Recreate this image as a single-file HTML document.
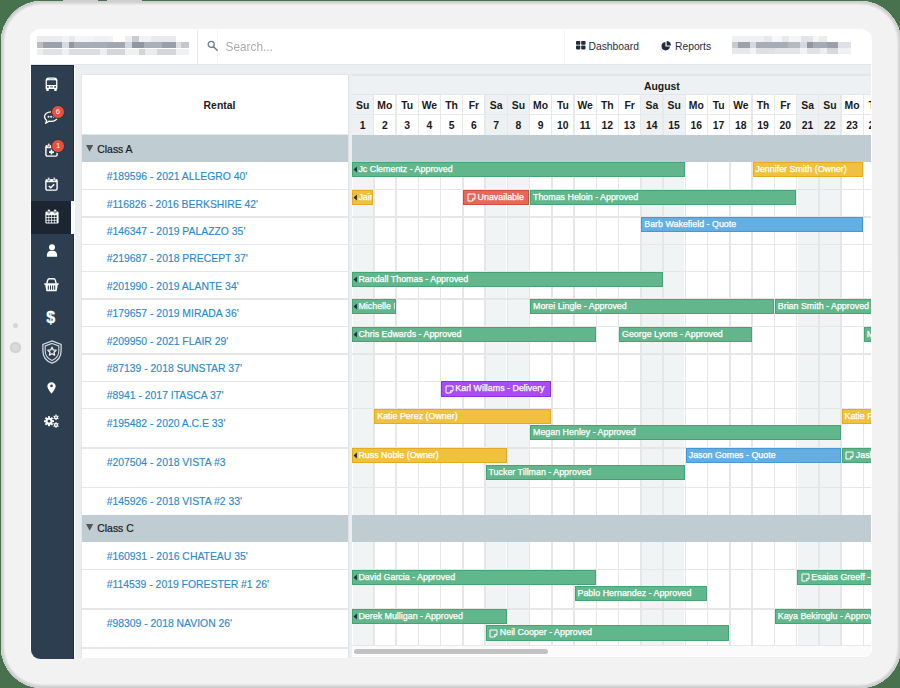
<!DOCTYPE html><html><head><meta charset="utf-8"><style>
*{margin:0;padding:0;box-sizing:border-box}
html,body{width:900px;height:688px;overflow:hidden;background:#48724d;font-family:"Liberation Sans",sans-serif}
.a{position:absolute}
.t{position:absolute;white-space:nowrap;line-height:1}
.bar{position:absolute;overflow:hidden;white-space:nowrap;color:#fff;font-size:8.9px;line-height:13.2px;border:1px solid;-webkit-text-stroke:0.25px #fff}
.lnk{color:#2b89d1;font-size:10.4px;-webkit-text-stroke:0.15px #2b89d1}
.hd{font-weight:bold;font-size:10.4px;color:#1a1a1a}
</style></head><body>

<div class="a" style="left:1px;top:0.8px;width:899.5px;height:687.5px;border-radius:41px;background:#f2f2f2;box-shadow:inset 0 0 0 1.3px #cdcdcd, inset 0 0 0 2.3px #d6d6d6, inset 0 0 0 3.3px #e2e2e2, inset 0 0 0 4.2px #ebebeb, inset 0 0 0 5px #f5f5f5"></div>
<div class="a" style="left:63px;top:0;width:35px;height:1.5px;background:#cfcfcf"></div>
<div class="a" style="left:107px;top:0;width:35px;height:1.5px;background:#cfcfcf"></div>
<div class="a" style="left:12.8px;top:322.5px;width:5px;height:5px;border-radius:50%;background:#d6d6d6"></div>
<div class="a" style="left:9.7px;top:341.8px;width:11px;height:11px;border-radius:50%;background:#dadada;box-shadow:inset 0 0 0 2px #d2d2d2"></div>
<div class="a" style="left:30px;top:28.5px;width:842px;height:628.5px;border-radius:9px 11px 7px 9px;background:#fff"></div>
<div class="a" style="left:74px;top:64.5px;width:797px;height:593.5px;background:#eceff1;border-radius:0 0 6px 0"></div>
<div class="a" style="left:31px;top:29.5px;width:840px;height:35px;background:#fff;border-radius:8px 10px 0 0;border-bottom:1px solid #e2e6e8"></div>
<div class="a" style="left:197px;top:30px;width:1px;height:34px;background:#e6e9eb"></div>
<div class="a" style="left:216.5px;top:30px;width:1px;height:34px;background:#f4f5f6"></div>
<div class="a" style="left:564px;top:30px;width:1px;height:34px;background:#f4f5f6"></div>
<div class="a" style="left:0;top:0;width:900px;height:70px;filter:blur(0.7px)"><div class="a" style="left:37.18px;top:35.7px;width:24.95px;height:6px;background:#e9ebed"></div><div class="a" style="left:62.14px;top:35.7px;width:6.62px;height:6px;background:#f1f2f3"></div><div class="a" style="left:68.75px;top:35.7px;width:6.62px;height:6px;background:#e6e8ea"></div><div class="a" style="left:75.37px;top:35.7px;width:18.9px;height:6px;background:#f3f4f5"></div><div class="a" style="left:94.27px;top:35.7px;width:12.29px;height:6px;background:#eef0f1"></div><div class="a" style="left:106.56px;top:35.7px;width:6.62px;height:6px;background:#f1f2f3"></div><div class="a" style="left:125.46px;top:35.7px;width:6.62px;height:6px;background:#eceef0"></div><div class="a" style="left:132.08px;top:35.7px;width:6.62px;height:6px;background:#c9cdd2"></div><div class="a" style="left:138.7px;top:35.7px;width:12.29px;height:6px;background:#f1f2f3"></div><div class="a" style="left:150.98px;top:35.7px;width:24.57px;height:6px;background:#e8eaec"></div><div class="a" style="left:37.18px;top:41.7px;width:6.05px;height:6.8px;background:#b9bec5"></div><div class="a" style="left:43.23px;top:41.7px;width:18.9px;height:6.8px;background:#9aa1ab"></div><div class="a" style="left:62.14px;top:41.7px;width:6.62px;height:6.8px;background:#d8dbdf"></div><div class="a" style="left:68.75px;top:41.7px;width:5.67px;height:6.8px;background:#8f97a2"></div><div class="a" style="left:74.42px;top:41.7px;width:32.14px;height:6.8px;background:#a7adb6"></div><div class="a" style="left:106.56px;top:41.7px;width:18.9px;height:6.8px;background:#a0a7b0"></div><div class="a" style="left:125.46px;top:41.7px;width:6.62px;height:6.8px;background:#d2d6da"></div><div class="a" style="left:132.08px;top:41.7px;width:12.29px;height:6.8px;background:#8f97a2"></div><div class="a" style="left:144.37px;top:41.7px;width:17.96px;height:6.8px;background:#aab0b8"></div><div class="a" style="left:162.33px;top:41.7px;width:13.23px;height:6.8px;background:#98a0aa"></div><div class="a" style="left:175.56px;top:41.7px;width:5.67px;height:6.8px;background:#dde0e3"></div><div class="a" style="left:181.23px;top:41.7px;width:7.56px;height:6.8px;background:#c3c8ce"></div><div class="a" style="left:37.18px;top:48.5px;width:6.05px;height:6px;background:#eceef0"></div><div class="a" style="left:43.23px;top:48.5px;width:18.9px;height:6px;background:#dfe2e5"></div><div class="a" style="left:62.14px;top:48.5px;width:6.62px;height:6px;background:#eff0f2"></div><div class="a" style="left:68.75px;top:48.5px;width:31.19px;height:6px;background:#dadde1"></div><div class="a" style="left:99.94px;top:48.5px;width:6.62px;height:6px;background:#eceef0"></div><div class="a" style="left:106.56px;top:48.5px;width:18.9px;height:6px;background:#d3d7db"></div><div class="a" style="left:125.46px;top:48.5px;width:13.23px;height:6px;background:#eff0f2"></div><div class="a" style="left:138.7px;top:48.5px;width:6.62px;height:6px;background:#d0d4d8"></div><div class="a" style="left:145.31px;top:48.5px;width:11.34px;height:6px;background:#e9ebed"></div><div class="a" style="left:156.65px;top:48.5px;width:18.9px;height:6px;background:#d3d7db"></div><div class="a" style="left:175.56px;top:48.5px;width:13.23px;height:6px;background:#f0f1f2"></div><div class="a" style="left:732.09px;top:35.5px;width:32.36px;height:6.5px;background:#eef0f1"></div><div class="a" style="left:764.44px;top:35.5px;width:7.11px;height:6.5px;background:#e6e8ea"></div><div class="a" style="left:771.56px;top:35.5px;width:10.67px;height:6.5px;background:#f6f7f8"></div><div class="a" style="left:782.22px;top:35.5px;width:7.11px;height:6.5px;background:#e6e8ea"></div><div class="a" style="left:789.33px;top:35.5px;width:11.56px;height:6.5px;background:#f4f5f6"></div><div class="a" style="left:800.89px;top:35.5px;width:12.44px;height:6.5px;background:#e2e5e8"></div><div class="a" style="left:813.33px;top:35.5px;width:5.33px;height:6.5px;background:#f4f5f6"></div><div class="a" style="left:818.67px;top:35.5px;width:8px;height:6.5px;background:#e9ebed"></div><div class="a" style="left:732.09px;top:42px;width:5.69px;height:5.8px;background:#c6cacf"></div><div class="a" style="left:737.78px;top:42px;width:12.44px;height:5.8px;background:#9ba2ac"></div><div class="a" style="left:750.22px;top:42px;width:6.22px;height:5.8px;background:#d5d8dc"></div><div class="a" style="left:756.44px;top:42px;width:32px;height:5.8px;background:#a7adb6"></div><div class="a" style="left:788.44px;top:42px;width:11.56px;height:5.8px;background:#b6bbc2"></div><div class="a" style="left:800px;top:42px;width:7.11px;height:5.8px;background:#d5d8dc"></div><div class="a" style="left:807.11px;top:42px;width:6.22px;height:5.8px;background:#8f97a2"></div><div class="a" style="left:813.33px;top:42px;width:13.33px;height:5.8px;background:#a5abb4"></div><div class="a" style="left:826.67px;top:42px;width:11.56px;height:5.8px;background:#98a0aa"></div><div class="a" style="left:838.22px;top:42px;width:12.98px;height:5.8px;background:#dfe2e5"></div><div class="a" style="left:732.09px;top:47.8px;width:18.13px;height:6.2px;background:#e6e8ea"></div><div class="a" style="left:750.22px;top:47.8px;width:6.22px;height:6.2px;background:#f2f3f4"></div><div class="a" style="left:756.44px;top:47.8px;width:18.67px;height:6.2px;background:#dee1e4"></div><div class="a" style="left:775.11px;top:47.8px;width:24.89px;height:6.2px;background:#e3e5e8"></div><div class="a" style="left:800px;top:47.8px;width:7.11px;height:6.2px;background:#f2f3f4"></div><div class="a" style="left:807.11px;top:47.8px;width:12.44px;height:6.2px;background:#e0e3e6"></div><div class="a" style="left:819.56px;top:47.8px;width:7.11px;height:6.2px;background:#eceef0"></div><div class="a" style="left:826.67px;top:47.8px;width:11.56px;height:6.2px;background:#d5d8dc"></div><div class="a" style="left:838.22px;top:47.8px;width:12.98px;height:6.2px;background:#f0f1f2"></div></div>
<svg class="a" style="left:206.5px;top:40.3px" width="13" height="12" viewBox="0 0 13 12"><circle cx="4.2" cy="4.4" r="3" fill="none" stroke="#6f7d89" stroke-width="1.3"/><line x1="6.5" y1="6.8" x2="10.2" y2="10.2" stroke="#6f7d89" stroke-width="1.5" stroke-linecap="round"/></svg>
<div class="t" style="left:225.6px;top:40.5px;font-size:11.8px;color:#aaaaaa;transform:scaleY(1.14);transform-origin:0 0">Search...</div>
<svg class="a" style="left:575.5px;top:41px" width="10" height="9" viewBox="0 0 10 9"><rect x="0" y="0" width="4.3" height="3.8" rx="0.8" fill="#1f2d3d"/><rect x="5.2" y="0" width="4.3" height="3.8" rx="0.8" fill="#1f2d3d"/><rect x="0" y="4.6" width="4.3" height="3.8" rx="0.8" fill="#1f2d3d"/><rect x="5.2" y="4.6" width="4.3" height="3.8" rx="0.8" fill="#1f2d3d"/></svg>
<div class="t" style="left:588.5px;top:42px;font-size:10.3px;color:#1f2d3d">Dashboard</div>
<svg class="a" style="left:661px;top:40.5px" width="11" height="10" viewBox="0 0 11 10"><path d="M4.4 1 A4.2 4.2 0 1 0 8.9 5.6 L4.4 5.6 Z" fill="#1f2d3d"/><path d="M5.6 0 A4.4 4.4 0 0 1 10 4.4 L5.6 4.4 Z" fill="#1f2d3d"/></svg>
<div class="t" style="left:675px;top:42px;font-size:10.3px;color:#1f2d3d">Reports</div>
<div class="a" style="left:31px;top:65px;width:43px;height:594px;background:#2c3e50;border-right:1px solid #1c2b3c;border-top:1px solid #1c2b3c;border-radius:0 0 0 9px"></div>
<div class="a" style="left:74px;top:65px;width:1px;height:592px;background:#fff"></div>
<div class="a" style="left:31px;top:200.5px;width:39.5px;height:33px;background:#1b2632"></div>
<div class="a" style="left:70.5px;top:200.5px;width:3.5px;height:33px;background:#fbfcfc"></div>
<svg class="a" style="left:45px;top:77.2px" width="13" height="14" viewBox="0 0 13 14"><path d="M0.6 3.6 Q0.6 0.5 3.8 0.5 H9.2 Q12.4 0.5 12.4 3.6 V11.4 Q12.4 12.1 11.8 12.1 V13.3 Q11.8 13.9 11.2 13.9 H9.8 Q9.2 13.9 9.2 13.3 V12.1 H3.8 V13.3 Q3.8 13.9 3.2 13.9 H1.8 Q1.2 13.9 1.2 13.3 V12.1 Q0.6 12.1 0.6 11.4 Z" fill="#fff"/><path d="M1.9 4.2 Q1.9 3.2 2.9 3.2 H10.1 Q11.1 3.2 11.1 4.2 V7.9 H1.9 Z" fill="#2c3e50"/><rect x="3.6" y="1.6" width="5.8" height="0.7" fill="#8a96a2"/><circle cx="2.9" cy="9.9" r="0.95" fill="#2c3e50"/><circle cx="10.1" cy="9.9" r="0.95" fill="#2c3e50"/><rect x="5" y="9.5" width="3" height="0.8" fill="#2c3e50"/></svg><svg class="a" style="left:44.3px;top:110.3px" width="15" height="14" viewBox="0 0 15 14"><path d="M7 1.8 C10.8 1.8 13.6 3.9 13.6 6.6 C13.6 9.3 10.8 11.4 7 11.4 C6.3 11.4 5.6 11.3 5 11.2 L1.8 13.2 L2.6 10.4 C1.3 9.5 0.6 8.1 0.6 6.6 C0.6 3.9 3.3 1.8 7 1.8 Z" fill="none" stroke="#fff" stroke-width="1.25"/><circle cx="4.5" cy="6.8" r="0.95" fill="#fff"/><circle cx="7.1" cy="6.8" r="0.95" fill="#fff"/><circle cx="9.7" cy="6.8" r="0.95" fill="#fff"/></svg><div class="a" style="left:50.6px;top:105.1px;width:14.4px;height:14.4px;border-radius:50%;background:#ea5039;border:1.1px solid #243445;color:#fff;font-size:7.6px;line-height:12.2px;text-align:center">6</div><svg class="a" style="left:44.6px;top:143.2px" width="13" height="14" viewBox="0 0 13 14"><rect x="0.9" y="2.6" width="11.2" height="10.5" rx="1.3" fill="none" stroke="#fff" stroke-width="1.4"/><rect x="0.9" y="2.6" width="11.2" height="2.6" fill="#fff"/><rect x="2.8" y="0.3" width="2" height="3.6" rx="1" fill="#fff" stroke="#2c3e50" stroke-width="0.6"/><rect x="8.2" y="0.3" width="2" height="3.6" rx="1" fill="#fff" stroke="#2c3e50" stroke-width="0.6"/><path d="M6.5 6.6 V11.6 M4 9.1 H9" stroke="#fff" stroke-width="1.6"/></svg><div class="a" style="left:50.9px;top:138.6px;width:14.4px;height:14.4px;border-radius:50%;background:#ea5039;border:1.1px solid #243445;color:#fff;font-size:7.6px;line-height:12px;text-align:center">1</div><svg class="a" style="left:44.8px;top:177px" width="13" height="14" viewBox="0 0 13 14"><rect x="0.9" y="2.6" width="11.2" height="10.5" rx="1.3" fill="none" stroke="#fff" stroke-width="1.4"/><rect x="0.9" y="2.6" width="11.2" height="2.6" fill="#fff"/><rect x="2.8" y="0.3" width="2" height="3.6" rx="1" fill="#fff" stroke="#2c3e50" stroke-width="0.6"/><rect x="8.2" y="0.3" width="2" height="3.6" rx="1" fill="#fff" stroke="#2c3e50" stroke-width="0.6"/><path d="M3.8 8.9 L5.7 10.8 L9.3 7.2" fill="none" stroke="#fff" stroke-width="1.4"/></svg><svg class="a" style="left:44.6px;top:209.4px" width="14" height="15" viewBox="0 0 14 15"><rect x="0.4" y="2.6" width="13.2" height="12" rx="1.3" fill="#fff"/><rect x="2.6" y="0.3" width="2.6" height="3.8" rx="1.3" fill="#fff" stroke="#1b2632" stroke-width="0.5"/><rect x="8.8" y="0.3" width="2.6" height="3.8" rx="1.3" fill="#fff" stroke="#1b2632" stroke-width="0.5"/><rect x="3.5" y="2.1" width="0.8" height="1.3" fill="#1b2632"/><rect x="9.7" y="2.1" width="0.8" height="1.3" fill="#1b2632"/><rect x="1.45" y="6.2" width="2.05" height="1.95" fill="#1b2632"/><rect x="1.45" y="8.9" width="2.05" height="1.95" fill="#1b2632"/><rect x="1.45" y="11.6" width="2.05" height="1.95" fill="#1b2632"/><rect x="4.17" y="6.2" width="2.05" height="1.95" fill="#1b2632"/><rect x="4.17" y="8.9" width="2.05" height="1.95" fill="#1b2632"/><rect x="4.17" y="11.6" width="2.05" height="1.95" fill="#1b2632"/><rect x="6.89" y="6.2" width="2.05" height="1.95" fill="#1b2632"/><rect x="6.89" y="8.9" width="2.05" height="1.95" fill="#1b2632"/><rect x="6.89" y="11.6" width="2.05" height="1.95" fill="#1b2632"/><rect x="9.61" y="6.2" width="2.05" height="1.95" fill="#1b2632"/><rect x="9.61" y="8.9" width="2.05" height="1.95" fill="#1b2632"/><rect x="9.61" y="11.6" width="2.05" height="1.95" fill="#1b2632"/></svg><svg class="a" style="left:45.5px;top:243.5px" width="12" height="13" viewBox="0 0 12 13"><circle cx="6" cy="3.3" r="3" fill="#fff"/><path d="M0.9 12.2 V10.8 C0.9 8.3 2.9 6.7 5 6.7 H7 C9.1 6.7 11.1 8.3 11.1 10.8 V12.2 Q11.1 12.8 10.5 12.8 H1.5 Q0.9 12.8 0.9 12.2 Z" fill="#fff"/></svg><svg class="a" style="left:44px;top:277.5px" width="15" height="14" viewBox="0 0 15 14"><path d="M2.9 5.4 L3.6 2.4 Q4 0.8 5.6 0.8 H9.4 Q11 0.8 11.4 2.4 L12.1 5.4" fill="none" stroke="#fff" stroke-width="1.4"/><path d="M0.3 5.2 H14.7 V6.8 H13.8 L12.6 13.2 H2.4 L1.2 6.8 H0.3 Z" fill="#fff"/><path d="M4.3 7.6 V11.8 M6.5 7.6 V11.8 M8.6 7.6 V11.8 M10.7 7.6 V11.8" stroke="#2c3e50" stroke-width="1.1"/></svg><div class="t" style="left:46.3px;top:309.8px;font-size:16px;font-weight:bold;color:#fff;-webkit-text-stroke:0.3px #fff">$</div><svg class="a" style="left:41.5px;top:340.3px" width="20" height="24" viewBox="0 0 20 24"><path d="M10 0.9 L19.1 4.4 V11 C19.1 17 15 21.4 10 23.2 C5 21.4 0.9 17 0.9 11 V4.4 Z" fill="none" stroke="#d3d8dc" stroke-width="1.3"/><path d="M10 3.4 L16.8 6 V11 C16.8 15.6 13.7 19 10 20.6 C6.3 19 3.2 15.6 3.2 11 V6 Z" fill="none" stroke="#d3d8dc" stroke-width="1.1"/><path d="M10.00 7.20 L11.23 9.90 L14.18 10.24 L12.00 12.25 L12.59 15.16 L10.00 13.70 L7.41 15.16 L8.00 12.25 L5.82 10.24 L8.77 9.90 Z" fill="none" stroke="#eef0f2" stroke-width="1.3" stroke-linejoin="round"/></svg><svg class="a" style="left:47.3px;top:382px" width="9" height="12" viewBox="0 0 9 12"><path d="M4.5 0.3 C6.8 0.3 8.6 2 8.6 4.2 C8.6 6.8 4.5 11.6 4.5 11.6 C4.5 11.6 0.4 6.8 0.4 4.2 C0.4 2 2.2 0.3 4.5 0.3 Z" fill="#fff"/><circle cx="4.5" cy="3.9" r="1.3" fill="#2c3e50"/></svg><svg class="a" style="left:44px;top:413.8px" width="15" height="15" viewBox="0 0 15 15"><circle cx="5" cy="7.2" r="3.5" fill="#fff"/><rect x="4.05" y="2.20" width="1.90" height="10.00" fill="#fff" transform="rotate(0.0 5 7.2)"/><rect x="4.05" y="2.20" width="1.90" height="10.00" fill="#fff" transform="rotate(45.0 5 7.2)"/><rect x="4.05" y="2.20" width="1.90" height="10.00" fill="#fff" transform="rotate(90.0 5 7.2)"/><rect x="4.05" y="2.20" width="1.90" height="10.00" fill="#fff" transform="rotate(135.0 5 7.2)"/><circle cx="5" cy="7.2" r="1.4" fill="#2c3e50"/><circle cx="12" cy="3.3" r="1.9" fill="#fff"/><rect x="11.40" y="0.50" width="1.20" height="5.60" fill="#fff" transform="rotate(0.0 12 3.3)"/><rect x="11.40" y="0.50" width="1.20" height="5.60" fill="#fff" transform="rotate(60.0 12 3.3)"/><rect x="11.40" y="0.50" width="1.20" height="5.60" fill="#fff" transform="rotate(120.0 12 3.3)"/><circle cx="12" cy="3.3" r="0.8" fill="#2c3e50"/><circle cx="12" cy="11" r="1.9" fill="#fff"/><rect x="11.40" y="8.20" width="1.20" height="5.60" fill="#fff" transform="rotate(0.0 12 11)"/><rect x="11.40" y="8.20" width="1.20" height="5.60" fill="#fff" transform="rotate(60.0 12 11)"/><rect x="11.40" y="8.20" width="1.20" height="5.60" fill="#fff" transform="rotate(120.0 12 11)"/><circle cx="12" cy="11" r="0.8" fill="#2c3e50"/></svg>
<div class="a" style="left:81px;top:73.5px;width:268px;height:584px;background:#fff;border:1px solid #e3e5e7;border-bottom:none"></div>
<div class="a" style="left:351.5px;top:73.5px;width:519.5px;height:583.5px;background:#fff;border-top:1px solid #e3e5e7;overflow:hidden;border-radius:0 0 6px 0"></div>
<div class="t hd" style="left:86.5px;width:266px;text-align:center;top:101px">Rental</div>
<div class="a" style="left:82px;top:134px;width:266px;height:1px;background:#e3e5e7"></div>
<div class="a" style="left:82px;top:135px;width:266px;height:27.1px;background:#bfccd2"></div><svg class="a" style="left:86.2px;top:144.5px" width="8" height="7" viewBox="0 0 8 7"><path d="M0 0 H7.2 L3.6 6.8 Z" fill="#555"/></svg><div class="t" style="left:97.3px;top:144.5px;font-size:10.4px;color:#1a1a1a;-webkit-text-stroke:0.2px #1a1a1a">Class A</div><div class="t lnk" style="left:106.7px;top:172.1px">#189596 - 2021 ALLEGRO 40'</div><div class="a" style="left:82px;top:188.75px;width:266px;height:1.5px;background:#e6e6e6"></div><div class="t lnk" style="left:106.7px;top:199.5px">#116826 - 2016 BERKSHIRE 42'</div><div class="a" style="left:82px;top:216.15px;width:266px;height:1.5px;background:#e6e6e6"></div><div class="t lnk" style="left:106.7px;top:226.9px">#146347 - 2019 PALAZZO 35'</div><div class="a" style="left:82px;top:243.55px;width:266px;height:1.5px;background:#e6e6e6"></div><div class="t lnk" style="left:106.7px;top:254.3px">#219687 - 2018 PRECEPT 37'</div><div class="a" style="left:82px;top:270.95px;width:266px;height:1.5px;background:#e6e6e6"></div><div class="t lnk" style="left:106.7px;top:281.7px">#201990 - 2019 ALANTE 34'</div><div class="a" style="left:82px;top:298.35px;width:266px;height:1.5px;background:#e6e6e6"></div><div class="t lnk" style="left:106.7px;top:309.1px">#179657 - 2019 MIRADA 36'</div><div class="a" style="left:82px;top:325.75px;width:266px;height:1.5px;background:#e6e6e6"></div><div class="t lnk" style="left:106.7px;top:336.5px">#209950 - 2021 FLAIR 29'</div><div class="a" style="left:82px;top:353.15px;width:266px;height:1.5px;background:#e6e6e6"></div><div class="t lnk" style="left:106.7px;top:363.9px">#87139 - 2018 SUNSTAR 37'</div><div class="a" style="left:82px;top:380.55px;width:266px;height:1.5px;background:#e6e6e6"></div><div class="t lnk" style="left:106.7px;top:391.3px">#8941 - 2017 ITASCA 37'</div><div class="a" style="left:82px;top:407.95px;width:266px;height:1.5px;background:#e6e6e6"></div><div class="t lnk" style="left:106.7px;top:418.7px">#195482 - 2020 A.C.E 33'</div><div class="a" style="left:82px;top:447.25px;width:266px;height:1.5px;background:#e6e6e6"></div><div class="t lnk" style="left:106.7px;top:458px">#207504 - 2018 VISTA #3</div><div class="a" style="left:82px;top:486.55px;width:266px;height:1.5px;background:#e6e6e6"></div><div class="t lnk" style="left:106.7px;top:497.3px">#145926 - 2018 VISTA #2 33'</div><div class="a" style="left:82px;top:514.7px;width:266px;height:27.4px;background:#bfccd2"></div><svg class="a" style="left:86.2px;top:524.2px" width="8" height="7" viewBox="0 0 8 7"><path d="M0 0 H7.2 L3.6 6.8 Z" fill="#555"/></svg><div class="t" style="left:97.3px;top:524.2px;font-size:10.4px;color:#1a1a1a;-webkit-text-stroke:0.2px #1a1a1a">Class C</div><div class="t lnk" style="left:106.7px;top:552.1px">#160931 - 2016 CHATEAU 35'</div><div class="a" style="left:82px;top:568.75px;width:266px;height:1.5px;background:#e6e6e6"></div><div class="t lnk" style="left:106.7px;top:579.5px">#114539 - 2019 FORESTER #1 26'</div><div class="a" style="left:82px;top:608.05px;width:266px;height:1.5px;background:#e6e6e6"></div><div class="t lnk" style="left:106.7px;top:618.8px">#98309 - 2018 NAVION 26'</div><div class="a" style="left:82px;top:647.35px;width:266px;height:1.5px;background:#e6e6e6"></div>
<div class="a" style="left:351.5px;top:73.5px;width:519.5px;height:582.8px;overflow:hidden;border-radius:0 0 6px 0"><div class="a" style="left:0;top:1.5px;width:520px;height:19.5px;background:#eef1f3;border-top:1px solid #e3e6e8"></div><div class="t hd" style="left:292.5px;top:8.2px">August</div><div class="a" style="left:0px;top:21.2px;width:22.25px;height:40px;background:#eef1f3"></div><div class="t hd" style="left:0px;width:22.25px;text-align:center;top:27.5px">Su</div><div class="t hd" style="left:0px;width:22.25px;text-align:center;top:47.5px">1</div><div class="a" style="left:22.25px;top:21.2px;width:22.25px;height:40px;background:#fff"></div><div class="t hd" style="left:22.25px;width:22.25px;text-align:center;top:27.5px">Mo</div><div class="t hd" style="left:22.25px;width:22.25px;text-align:center;top:47.5px">2</div><div class="a" style="left:44.5px;top:21.2px;width:22.25px;height:40px;background:#fff"></div><div class="t hd" style="left:44.5px;width:22.25px;text-align:center;top:27.5px">Tu</div><div class="t hd" style="left:44.5px;width:22.25px;text-align:center;top:47.5px">3</div><div class="a" style="left:66.75px;top:21.2px;width:22.25px;height:40px;background:#fff"></div><div class="t hd" style="left:66.75px;width:22.25px;text-align:center;top:27.5px">We</div><div class="t hd" style="left:66.75px;width:22.25px;text-align:center;top:47.5px">4</div><div class="a" style="left:89px;top:21.2px;width:22.25px;height:40px;background:#fff"></div><div class="t hd" style="left:89px;width:22.25px;text-align:center;top:27.5px">Th</div><div class="t hd" style="left:89px;width:22.25px;text-align:center;top:47.5px">5</div><div class="a" style="left:111.25px;top:21.2px;width:22.25px;height:40px;background:#fff"></div><div class="t hd" style="left:111.25px;width:22.25px;text-align:center;top:27.5px">Fr</div><div class="t hd" style="left:111.25px;width:22.25px;text-align:center;top:47.5px">6</div><div class="a" style="left:133.5px;top:21.2px;width:22.25px;height:40px;background:#eef1f3"></div><div class="t hd" style="left:133.5px;width:22.25px;text-align:center;top:27.5px">Sa</div><div class="t hd" style="left:133.5px;width:22.25px;text-align:center;top:47.5px">7</div><div class="a" style="left:155.75px;top:21.2px;width:22.25px;height:40px;background:#eef1f3"></div><div class="t hd" style="left:155.75px;width:22.25px;text-align:center;top:27.5px">Su</div><div class="t hd" style="left:155.75px;width:22.25px;text-align:center;top:47.5px">8</div><div class="a" style="left:178px;top:21.2px;width:22.25px;height:40px;background:#fff"></div><div class="t hd" style="left:178px;width:22.25px;text-align:center;top:27.5px">Mo</div><div class="t hd" style="left:178px;width:22.25px;text-align:center;top:47.5px">9</div><div class="a" style="left:200.25px;top:21.2px;width:22.25px;height:40px;background:#fff"></div><div class="t hd" style="left:200.25px;width:22.25px;text-align:center;top:27.5px">Tu</div><div class="t hd" style="left:200.25px;width:22.25px;text-align:center;top:47.5px">10</div><div class="a" style="left:222.5px;top:21.2px;width:22.25px;height:40px;background:#fff"></div><div class="t hd" style="left:222.5px;width:22.25px;text-align:center;top:27.5px">We</div><div class="t hd" style="left:222.5px;width:22.25px;text-align:center;top:47.5px">11</div><div class="a" style="left:244.75px;top:21.2px;width:22.25px;height:40px;background:#fff"></div><div class="t hd" style="left:244.75px;width:22.25px;text-align:center;top:27.5px">Th</div><div class="t hd" style="left:244.75px;width:22.25px;text-align:center;top:47.5px">12</div><div class="a" style="left:267px;top:21.2px;width:22.25px;height:40px;background:#fff"></div><div class="t hd" style="left:267px;width:22.25px;text-align:center;top:27.5px">Fr</div><div class="t hd" style="left:267px;width:22.25px;text-align:center;top:47.5px">13</div><div class="a" style="left:289.25px;top:21.2px;width:22.25px;height:40px;background:#eef1f3"></div><div class="t hd" style="left:289.25px;width:22.25px;text-align:center;top:27.5px">Sa</div><div class="t hd" style="left:289.25px;width:22.25px;text-align:center;top:47.5px">14</div><div class="a" style="left:311.5px;top:21.2px;width:22.25px;height:40px;background:#eef1f3"></div><div class="t hd" style="left:311.5px;width:22.25px;text-align:center;top:27.5px">Su</div><div class="t hd" style="left:311.5px;width:22.25px;text-align:center;top:47.5px">15</div><div class="a" style="left:333.75px;top:21.2px;width:22.25px;height:40px;background:#fff"></div><div class="t hd" style="left:333.75px;width:22.25px;text-align:center;top:27.5px">Mo</div><div class="t hd" style="left:333.75px;width:22.25px;text-align:center;top:47.5px">16</div><div class="a" style="left:356px;top:21.2px;width:22.25px;height:40px;background:#fff"></div><div class="t hd" style="left:356px;width:22.25px;text-align:center;top:27.5px">Tu</div><div class="t hd" style="left:356px;width:22.25px;text-align:center;top:47.5px">17</div><div class="a" style="left:378.25px;top:21.2px;width:22.25px;height:40px;background:#fff"></div><div class="t hd" style="left:378.25px;width:22.25px;text-align:center;top:27.5px">We</div><div class="t hd" style="left:378.25px;width:22.25px;text-align:center;top:47.5px">18</div><div class="a" style="left:400.5px;top:21.2px;width:22.25px;height:40px;background:#fff"></div><div class="t hd" style="left:400.5px;width:22.25px;text-align:center;top:27.5px">Th</div><div class="t hd" style="left:400.5px;width:22.25px;text-align:center;top:47.5px">19</div><div class="a" style="left:422.75px;top:21.2px;width:22.25px;height:40px;background:#fff"></div><div class="t hd" style="left:422.75px;width:22.25px;text-align:center;top:27.5px">Fr</div><div class="t hd" style="left:422.75px;width:22.25px;text-align:center;top:47.5px">20</div><div class="a" style="left:445px;top:21.2px;width:22.25px;height:40px;background:#eef1f3"></div><div class="t hd" style="left:445px;width:22.25px;text-align:center;top:27.5px">Sa</div><div class="t hd" style="left:445px;width:22.25px;text-align:center;top:47.5px">21</div><div class="a" style="left:467.25px;top:21.2px;width:22.25px;height:40px;background:#eef1f3"></div><div class="t hd" style="left:467.25px;width:22.25px;text-align:center;top:27.5px">Su</div><div class="t hd" style="left:467.25px;width:22.25px;text-align:center;top:47.5px">22</div><div class="a" style="left:489.5px;top:21.2px;width:22.25px;height:40px;background:#fff"></div><div class="t hd" style="left:489.5px;width:22.25px;text-align:center;top:27.5px">Mo</div><div class="t hd" style="left:489.5px;width:22.25px;text-align:center;top:47.5px">23</div><div class="a" style="left:511.75px;top:21.2px;width:22.25px;height:40px;background:#fff"></div><div class="t hd" style="left:511.75px;width:22.25px;text-align:center;top:27.5px">Tu</div><div class="t hd" style="left:511.75px;width:22.25px;text-align:center;top:47.5px">24</div><div class="a" style="left:534px;top:21.2px;width:22.25px;height:40px;background:#fff"></div><div class="t hd" style="left:534px;width:22.25px;text-align:center;top:27.5px">We</div><div class="t hd" style="left:534px;width:22.25px;text-align:center;top:47.5px">25</div><div class="a" style="left:21.55px;top:21.2px;width:1.4px;height:40px;background:#e6e8ea"></div><div class="a" style="left:43.8px;top:21.2px;width:1.4px;height:40px;background:#e6e8ea"></div><div class="a" style="left:66.05px;top:21.2px;width:1.4px;height:40px;background:#e6e8ea"></div><div class="a" style="left:88.3px;top:21.2px;width:1.4px;height:40px;background:#e6e8ea"></div><div class="a" style="left:110.55px;top:21.2px;width:1.4px;height:40px;background:#e6e8ea"></div><div class="a" style="left:132.8px;top:21.2px;width:1.4px;height:40px;background:#e6e8ea"></div><div class="a" style="left:155.05px;top:21.2px;width:1.4px;height:40px;background:#e6e8ea"></div><div class="a" style="left:177.3px;top:21.2px;width:1.4px;height:40px;background:#e6e8ea"></div><div class="a" style="left:199.55px;top:21.2px;width:1.4px;height:40px;background:#e6e8ea"></div><div class="a" style="left:221.8px;top:21.2px;width:1.4px;height:40px;background:#e6e8ea"></div><div class="a" style="left:244.05px;top:21.2px;width:1.4px;height:40px;background:#e6e8ea"></div><div class="a" style="left:266.3px;top:21.2px;width:1.4px;height:40px;background:#e6e8ea"></div><div class="a" style="left:288.55px;top:21.2px;width:1.4px;height:40px;background:#e6e8ea"></div><div class="a" style="left:310.8px;top:21.2px;width:1.4px;height:40px;background:#e6e8ea"></div><div class="a" style="left:333.05px;top:21.2px;width:1.4px;height:40px;background:#e6e8ea"></div><div class="a" style="left:355.3px;top:21.2px;width:1.4px;height:40px;background:#e6e8ea"></div><div class="a" style="left:377.55px;top:21.2px;width:1.4px;height:40px;background:#e6e8ea"></div><div class="a" style="left:399.8px;top:21.2px;width:1.4px;height:40px;background:#e6e8ea"></div><div class="a" style="left:422.05px;top:21.2px;width:1.4px;height:40px;background:#e6e8ea"></div><div class="a" style="left:444.3px;top:21.2px;width:1.4px;height:40px;background:#e6e8ea"></div><div class="a" style="left:466.55px;top:21.2px;width:1.4px;height:40px;background:#e6e8ea"></div><div class="a" style="left:488.8px;top:21.2px;width:1.4px;height:40px;background:#e6e8ea"></div><div class="a" style="left:511.05px;top:21.2px;width:1.4px;height:40px;background:#e6e8ea"></div><div class="a" style="left:533.3px;top:21.2px;width:1.4px;height:40px;background:#e6e8ea"></div><div class="a" style="left:0;top:40.5px;width:520px;height:1.4px;background:#e6e8ea"></div><div class="a" style="left:0;top:20.7px;width:520px;height:1px;background:#e3e6e8"></div><div class="a" style="left:1px;top:61.5px;width:20.25px;height:513.1px;background:#f0f4f5"></div><div class="a" style="left:134.5px;top:61.5px;width:20.25px;height:513.1px;background:#f0f4f5"></div><div class="a" style="left:156.75px;top:61.5px;width:20.25px;height:513.1px;background:#f0f4f5"></div><div class="a" style="left:290.25px;top:61.5px;width:20.25px;height:513.1px;background:#f0f4f5"></div><div class="a" style="left:312.5px;top:61.5px;width:20.25px;height:513.1px;background:#f0f4f5"></div><div class="a" style="left:446px;top:61.5px;width:20.25px;height:513.1px;background:#f0f4f5"></div><div class="a" style="left:468.25px;top:61.5px;width:20.25px;height:513.1px;background:#f0f4f5"></div><div class="a" style="left:21.5px;top:61.5px;width:1.5px;height:513.1px;background:#e6e6e6"></div><div class="a" style="left:43.75px;top:61.5px;width:1.5px;height:513.1px;background:#e6e6e6"></div><div class="a" style="left:66px;top:61.5px;width:1.5px;height:513.1px;background:#e6e6e6"></div><div class="a" style="left:88.25px;top:61.5px;width:1.5px;height:513.1px;background:#e6e6e6"></div><div class="a" style="left:110.5px;top:61.5px;width:1.5px;height:513.1px;background:#e6e6e6"></div><div class="a" style="left:132.75px;top:61.5px;width:1.5px;height:513.1px;background:#e6e6e6"></div><div class="a" style="left:155px;top:61.5px;width:1.5px;height:513.1px;background:#e6e6e6"></div><div class="a" style="left:177.25px;top:61.5px;width:1.5px;height:513.1px;background:#e6e6e6"></div><div class="a" style="left:199.5px;top:61.5px;width:1.5px;height:513.1px;background:#e6e6e6"></div><div class="a" style="left:221.75px;top:61.5px;width:1.5px;height:513.1px;background:#e6e6e6"></div><div class="a" style="left:244px;top:61.5px;width:1.5px;height:513.1px;background:#e6e6e6"></div><div class="a" style="left:266.25px;top:61.5px;width:1.5px;height:513.1px;background:#e6e6e6"></div><div class="a" style="left:288.5px;top:61.5px;width:1.5px;height:513.1px;background:#e6e6e6"></div><div class="a" style="left:310.75px;top:61.5px;width:1.5px;height:513.1px;background:#e6e6e6"></div><div class="a" style="left:333px;top:61.5px;width:1.5px;height:513.1px;background:#e6e6e6"></div><div class="a" style="left:355.25px;top:61.5px;width:1.5px;height:513.1px;background:#e6e6e6"></div><div class="a" style="left:377.5px;top:61.5px;width:1.5px;height:513.1px;background:#e6e6e6"></div><div class="a" style="left:399.75px;top:61.5px;width:1.5px;height:513.1px;background:#e6e6e6"></div><div class="a" style="left:422px;top:61.5px;width:1.5px;height:513.1px;background:#e6e6e6"></div><div class="a" style="left:444.25px;top:61.5px;width:1.5px;height:513.1px;background:#e6e6e6"></div><div class="a" style="left:466.5px;top:61.5px;width:1.5px;height:513.1px;background:#e6e6e6"></div><div class="a" style="left:488.75px;top:61.5px;width:1.5px;height:513.1px;background:#e6e6e6"></div><div class="a" style="left:511px;top:61.5px;width:1.5px;height:513.1px;background:#e6e6e6"></div><div class="a" style="left:533.25px;top:61.5px;width:1.5px;height:513.1px;background:#e6e6e6"></div><div class="a" style="left:0;top:61.5px;width:520px;height:27.1px;background:#bfccd2"></div><div class="a" style="left:0;top:115.25px;width:520px;height:1.5px;background:#e6e6e6"></div><div class="a" style="left:0;top:142.65px;width:520px;height:1.5px;background:#e6e6e6"></div><div class="a" style="left:0;top:170.05px;width:520px;height:1.5px;background:#e6e6e6"></div><div class="a" style="left:0;top:197.45px;width:520px;height:1.5px;background:#e6e6e6"></div><div class="a" style="left:0;top:224.85px;width:520px;height:1.5px;background:#e6e6e6"></div><div class="a" style="left:0;top:252.25px;width:520px;height:1.5px;background:#e6e6e6"></div><div class="a" style="left:0;top:279.65px;width:520px;height:1.5px;background:#e6e6e6"></div><div class="a" style="left:0;top:307.05px;width:520px;height:1.5px;background:#e6e6e6"></div><div class="a" style="left:0;top:334.45px;width:520px;height:1.5px;background:#e6e6e6"></div><div class="a" style="left:0;top:373.75px;width:520px;height:1.5px;background:#e6e6e6"></div><div class="a" style="left:0;top:413.05px;width:520px;height:1.5px;background:#e6e6e6"></div><div class="a" style="left:0;top:441.2px;width:520px;height:27.4px;background:#bfccd2"></div><div class="a" style="left:0;top:495.25px;width:520px;height:1.5px;background:#e6e6e6"></div><div class="a" style="left:0;top:534.55px;width:520px;height:1.5px;background:#e6e6e6"></div><div class="a" style="left:0;top:573.85px;width:520px;height:1.5px;background:#e6e6e6"></div><div class="bar" style="left:0.5px;top:88.7px;width:332.85px;height:15.3px;background:#62b68b;border-color:#45a572;padding-left:5.4px"><svg style="position:absolute;left:0px;top:3.3px" width="5" height="7" viewBox="0 0 5 7"><path d="M3.9 0.4 V6.4 L0.6 3.4 Z" fill="#1e2b33"/></svg>Jc Clementz - Approved</div><div class="bar" style="left:401px;top:88.7px;width:110.35px;height:15.3px;background:#f0c13f;border-color:#e4ab20;padding-left:2px">Jennifer Smith (Owner)</div><div class="bar" style="left:0.5px;top:116.1px;width:21.35px;height:15.3px;background:#f0c13f;border-color:#e4ab20;padding-left:5.4px"><svg style="position:absolute;left:0px;top:3.3px" width="5" height="7" viewBox="0 0 5 7"><path d="M3.9 0.4 V6.4 L0.6 3.4 Z" fill="#1e2b33"/></svg>Jair</div><div class="bar" style="left:111.75px;top:116.1px;width:65.85px;height:15.3px;background:#e8675d;border-color:#d84a3f;padding-left:13.3px"><svg style="position:absolute;left:2.5px;top:2.3px" width="9" height="9" viewBox="0 0 9 9"><path d="M1 1 H8 V5.6 L5.6 8 H1 Z" fill="none" stroke="#fff" stroke-width="1"/><path d="M5.6 8 V5.6 H8" fill="none" stroke="#fff" stroke-width="0.9"/></svg>Unavailable</div><div class="bar" style="left:178.5px;top:116.1px;width:266.1px;height:15.3px;background:#62b68b;border-color:#45a572;padding-left:2px">Thomas Heloin - Approved</div><div class="bar" style="left:289.75px;top:143.5px;width:221.6px;height:15.3px;background:#64aee2;border-color:#4398d6;padding-left:2px">Barb Wakefield - Quote</div><div class="bar" style="left:0.5px;top:198.3px;width:310.6px;height:15.3px;background:#62b68b;border-color:#45a572;padding-left:5.4px"><svg style="position:absolute;left:0px;top:3.3px" width="5" height="7" viewBox="0 0 5 7"><path d="M3.9 0.4 V6.4 L0.6 3.4 Z" fill="#1e2b33"/></svg>Randall Thomas - Approved</div><div class="bar" style="left:0.5px;top:225.7px;width:43.6px;height:15.3px;background:#62b68b;border-color:#45a572;padding-left:5.4px"><svg style="position:absolute;left:0px;top:3.3px" width="5" height="7" viewBox="0 0 5 7"><path d="M3.9 0.4 V6.4 L0.6 3.4 Z" fill="#1e2b33"/></svg>Michelle Ingram - Approved</div><div class="bar" style="left:178.5px;top:225.7px;width:243.85px;height:15.3px;background:#62b68b;border-color:#45a572;padding-left:2px">Morei Lingle - Approved</div><div class="bar" style="left:423.25px;top:225.7px;width:136.75px;height:15.3px;background:#62b68b;border-color:#45a572;padding-left:2px">Brian Smith - Approved</div><div class="bar" style="left:0.5px;top:253.1px;width:243.85px;height:15.3px;background:#62b68b;border-color:#45a572;padding-left:5.4px"><svg style="position:absolute;left:0px;top:3.3px" width="5" height="7" viewBox="0 0 5 7"><path d="M3.9 0.4 V6.4 L0.6 3.4 Z" fill="#1e2b33"/></svg>Chris Edwards - Approved</div><div class="bar" style="left:267.5px;top:253.1px;width:132.6px;height:15.3px;background:#62b68b;border-color:#45a572;padding-left:2px">George Lyons - Approved</div><div class="bar" style="left:512.25px;top:253.1px;width:47.75px;height:15.3px;background:#62b68b;border-color:#45a572;padding-left:2px">Mark Jones - Approved</div><div class="bar" style="left:89.5px;top:307.9px;width:110.35px;height:15.3px;background:#a54ef5;border-color:#8d2fe6;padding-left:13.3px"><svg style="position:absolute;left:2.5px;top:2.3px" width="9" height="9" viewBox="0 0 9 9"><path d="M1 1 H8 V5.6 L5.6 8 H1 Z" fill="none" stroke="#fff" stroke-width="1"/><path d="M5.6 8 V5.6 H8" fill="none" stroke="#fff" stroke-width="0.9"/></svg>Karl Willams - Delivery</div><div class="bar" style="left:22.75px;top:335.3px;width:177.1px;height:15.3px;background:#f0c13f;border-color:#e4ab20;padding-left:2px">Katie Perez (Owner)</div><div class="bar" style="left:178.5px;top:351.7px;width:310.6px;height:15.3px;background:#62b68b;border-color:#45a572;padding-left:2px">Megan Henley - Approved</div><div class="bar" style="left:490px;top:335.3px;width:70px;height:15.3px;background:#f0c13f;border-color:#e4ab20;padding-left:2px">Katie Perez (Owner)</div><div class="bar" style="left:0.5px;top:374.6px;width:154.85px;height:15.3px;background:#f0c13f;border-color:#e4ab20;padding-left:5.4px"><svg style="position:absolute;left:0px;top:3.3px" width="5" height="7" viewBox="0 0 5 7"><path d="M3.9 0.4 V6.4 L0.6 3.4 Z" fill="#1e2b33"/></svg>Russ Noble (Owner)</div><div class="bar" style="left:134px;top:391px;width:199.35px;height:15.3px;background:#62b68b;border-color:#45a572;padding-left:2px">Tucker Tillman - Approved</div><div class="bar" style="left:334.25px;top:374.6px;width:154.85px;height:15.3px;background:#64aee2;border-color:#4398d6;padding-left:2px">Jason Gomes - Quote</div><div class="bar" style="left:490px;top:374.6px;width:70px;height:15.3px;background:#62b68b;border-color:#45a572;padding-left:13.3px"><svg style="position:absolute;left:2.5px;top:2.3px" width="9" height="9" viewBox="0 0 9 9"><path d="M1 1 H8 V5.6 L5.6 8 H1 Z" fill="none" stroke="#fff" stroke-width="1"/><path d="M5.6 8 V5.6 H8" fill="none" stroke="#fff" stroke-width="0.9"/></svg>Jash Patel - Approved</div><div class="bar" style="left:0.5px;top:496.1px;width:243.85px;height:15.3px;background:#62b68b;border-color:#45a572;padding-left:5.4px"><svg style="position:absolute;left:0px;top:3.3px" width="5" height="7" viewBox="0 0 5 7"><path d="M3.9 0.4 V6.4 L0.6 3.4 Z" fill="#1e2b33"/></svg>David Garcia - Approved</div><div class="bar" style="left:223px;top:512.5px;width:132.6px;height:15.3px;background:#62b68b;border-color:#45a572;padding-left:2px">Pablo Hernandez - Approved</div><div class="bar" style="left:445.5px;top:496.1px;width:114.5px;height:15.3px;background:#62b68b;border-color:#45a572;padding-left:13.3px"><svg style="position:absolute;left:2.5px;top:2.3px" width="9" height="9" viewBox="0 0 9 9"><path d="M1 1 H8 V5.6 L5.6 8 H1 Z" fill="none" stroke="#fff" stroke-width="1"/><path d="M5.6 8 V5.6 H8" fill="none" stroke="#fff" stroke-width="0.9"/></svg>Esaias Greeff - Approved</div><div class="bar" style="left:0.5px;top:535.4px;width:154.85px;height:15.3px;background:#62b68b;border-color:#45a572;padding-left:5.4px"><svg style="position:absolute;left:0px;top:3.3px" width="5" height="7" viewBox="0 0 5 7"><path d="M3.9 0.4 V6.4 L0.6 3.4 Z" fill="#1e2b33"/></svg>Derek Mulligan - Approved</div><div class="bar" style="left:134px;top:551.8px;width:243.85px;height:15.3px;background:#62b68b;border-color:#45a572;padding-left:13.3px"><svg style="position:absolute;left:2.5px;top:2.3px" width="9" height="9" viewBox="0 0 9 9"><path d="M1 1 H8 V5.6 L5.6 8 H1 Z" fill="none" stroke="#fff" stroke-width="1"/><path d="M5.6 8 V5.6 H8" fill="none" stroke="#fff" stroke-width="0.9"/></svg>Neil Cooper - Approved</div><div class="bar" style="left:423.25px;top:535.4px;width:136.75px;height:15.3px;background:#62b68b;border-color:#45a572;padding-left:2px">Kaya Bekiroglu - Approved</div><div class="a" style="left:0;top:571.5px;width:520px;height:20px;background:#fbfbfb;border-top:1.5px solid #e8e8e8"></div><div class="a" style="left:2.5px;top:575.3px;width:194px;height:5.4px;border-radius:3px;background:#c2c2c2"></div></div>
<div class="a" style="left:348px;top:73.5px;width:1.2px;height:584px;background:#dfe2e4"></div>
<div class="a" style="left:349.2px;top:73.5px;width:2.3px;height:584px;background:#eceff1"></div>
</body></html>
